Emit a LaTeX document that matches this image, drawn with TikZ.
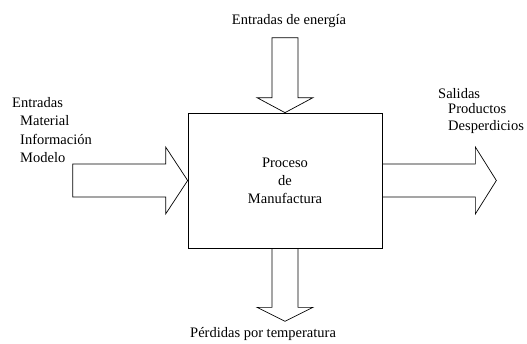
\documentclass[tikz,border=0pt]{standalone}
\usepackage{fontspec}
\setmainfont{Liberation Serif}
\usetikzlibrary{positioning,calc}
\tikzstyle{proc} = [rectangle, draw, line width=0.7pt, inner sep=0pt,
    minimum width=194pt, minimum height=135pt, align=center,
    font=\fontsize{14.5}{18}\selectfont]
\tikzstyle{lbl} = [inner sep=0pt, anchor=base west,
    font=\fontsize{14.5}{18}\selectfont]
\tikzstyle{blockarrow} = [draw, line width=0.7pt, line join=miter]

\begin{document}
\begin{tikzpicture}[x=1pt,y=-1pt]
  \useasboundingbox (0,0) rectangle (527,343);
  % Place nodes
  \node [proc] (box) at (285,180.5) {Proceso\\de\\Manufactura};
  \node [lbl, anchor=base] (energy) at (289,24) {Entradas de energía};
  \node [lbl] (losses) at (190,337) {Pérdidas por temperatura};
  \node [lbl] (inputs) at (12,107) {Entradas};
  \node [lbl] (material) at (20,125.5) {Material};
  \node [lbl] (info) at (20,144) {Información};
  \node [lbl] (model) at (20,162) {Modelo};
  \node [lbl] (outputs) at (438,98) {Salidas};
  \node [lbl] (products) at (448,113.5) {Productos};
  \node [lbl] (waste) at (448,130.5) {Desperdicios};
  % Draw arrows
  \draw [blockarrow] ($(box.west)+(-115,-16.5)$) -- ++(93,0) -- ++(0,-17)
    -- (box.west) -- ($(box.west)+(-22,33.5)$) -- ++(0,-17) -- ++(-93,0) -- cycle;
  \draw [blockarrow] ($(box.east)+(0,-16.5)$) -- ++(93,0) -- ++(0,-17)
    -- ($(box.east)+(114,0)$) -- ($(box.east)+(93,33.5)$) -- ++(0,-17) -- ++(-93,0);
  \draw [blockarrow] ($(box.north)+(-13,-75)$) -- ++(26,0) -- ++(0,60) -- ++(15,0)
    -- (box.north) -- ($(box.north)+(-28,-15)$) -- ++(15,0) -- cycle;
  \draw [blockarrow] ($(box.south)+(-13,0)$) -- ++(0,59) -- ++(-15,0)
    -- ($(box.south)+(0,73)$) -- ($(box.south)+(28,59)$) -- ++(-15,0) -- ++(0,-59);
\end{tikzpicture}
\end{document}
